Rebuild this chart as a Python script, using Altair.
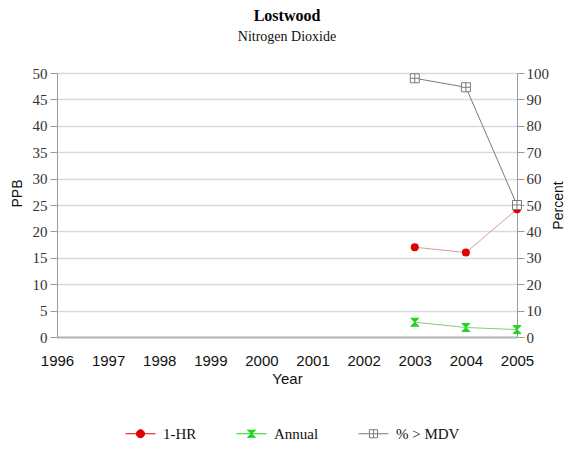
import altair as alt
import pandas as pd

# ---- data ----
years = [2003, 2004, 2005]
hr1 = [17.0, 16.0, 24.2]          # PPB
annual = [2.8, 1.8, 1.4]          # PPB
pct_mdv = [98.0, 94.6, 50.0]      # Percent
year_ticks = list(range(1996, 2006))
ppb_ticks = list(range(0, 51, 5))
pct_ticks = list(range(0, 101, 10))
series = ["1-HR", "Annual", "% > MDV"]

df_ppb = pd.DataFrame({
    "year": years * 2,
    "value": hr1 + annual,
    "series": ["1-HR"] * 3 + ["Annual"] * 3,
})
df_pct = pd.DataFrame({"year": years, "value": pct_mdv, "series": ["% > MDV"] * 3})
df_leg = pd.DataFrame({"series": series})

RED, GREEN, GRAY = "#e00000", "#1fd41f", "#7a7a7a"
LRED, LGREEN = "#d99a9a", "#7fd07f"
SERIF, SANS = "Liberation Serif", "Liberation Sans"

x = alt.X(
    "year:Q",
    scale=alt.Scale(domain=[1996, 2005], nice=False, zero=False),
    axis=alt.Axis(values=year_ticks, format="d", ticks=False, labelPadding=16,
                  labelFlush=False, labelOverlap=False,
                  labelFont=SANS, labelFontSize=15, labelColor="#111",
                  domainColor="#b5b5b5", domainWidth=2, grid=False,
                  title="Year", titleFont=SANS, titleFontSize=15, titleFontWeight="normal",
                  titleColor="#111", titlePadding=3),
)

y_left = alt.Y(
    "value:Q",
    scale=alt.Scale(domain=[0, 50], nice=False),
    axis=alt.Axis(values=ppb_ticks, tickSize=7, tickColor="#9a9a9a", labelPadding=3,
                  labelFont=SERIF, labelFontSize=15, labelColor="#333",
                  domainColor="#9a9a9a", grid=True, gridColor="#d9d9d9", gridWidth=1.5,
                  title="PPB", titleFont=SANS, titleFontSize=14, titleFontWeight="normal",
                  titleColor="#111", titlePadding=8, titleY=120),
)

y_right = alt.Y(
    "value:Q",
    scale=alt.Scale(domain=[0, 100], nice=False),
    axis=alt.Axis(orient="right", values=pct_ticks, tickSize=7, tickColor="#9a9a9a",
                  labelPadding=2, labelFont=SERIF, labelFontSize=15, labelColor="#333",
                  domainColor="#9a9a9a", grid=False,
                  title="Percent", titleFont=SANS, titleFontSize=14, titleFontWeight="normal",
                  titleColor="#111", titleAngle=270, titleBaseline="top", titlePadding=3),
)

left_lines = alt.Chart(df_ppb).mark_line(strokeWidth=1).encode(
    x=x, y=y_left,
    color=alt.Color("series:N", scale=alt.Scale(domain=["1-HR", "Annual"], range=[LRED, LGREEN]),
                    legend=None),
)
hr_pts = alt.Chart(df_ppb).transform_filter(alt.datum.series == "1-HR").mark_point(
    shape="circle", size=64, filled=True, color=RED, opacity=1
).encode(x=x, y=y_left)
ann_pts = alt.Chart(df_ppb).transform_filter(alt.datum.series == "Annual").mark_point(
    shape="M-1,-1H1L-1,1H1Z", size=64, filled=True, color=GREEN, stroke=GREEN,
    strokeWidth=1, opacity=1
).encode(x=x, y=y_left)

leg = alt.Legend(orient="none", legendX=68, legendY=345, direction="horizontal", title=None,
                 symbolSize=900, symbolStrokeWidth=1, labelFont=SERIF, labelFontSize=15,
                 labelColor="#111", labelOffset=7, columnPadding=37, padding=0)
legend_paths = [
    "M-1,0H1M-0.27,0A0.27,0.27 0 1,0 0.27,0A0.27,0.27 0 1,0 -0.27,0Z",
    "M-1,0H1M-0.27,-0.24H0.27L-0.27,0.24H0.27Z",
    "M-1,0H1M-0.27,-0.27H0.27V0.27H-0.27ZM0,-0.27V0.27",
]
legend_layer = alt.Chart(df_leg).mark_point(filled=True, clip=True, opacity=1, strokeWidth=1).encode(
    x=alt.value(-300), y=alt.value(-300),
    fill=alt.Fill("series:N", scale=alt.Scale(domain=series, range=[RED, GREEN, "white"]), legend=leg),
    stroke=alt.Stroke("series:N", scale=alt.Scale(domain=series, range=[RED, GREEN, GRAY]), legend=leg),
    shape=alt.Shape("series:N", scale=alt.Scale(domain=series, range=legend_paths), legend=leg),
)

left = alt.layer(left_lines, hr_pts, ann_pts, legend_layer)

right_line = alt.Chart(df_pct).mark_line(strokeWidth=1, color=GRAY).encode(x=x, y=y_right)
pct_pts = alt.Chart(df_pct).mark_point(
    shape="M-1,-1H1V1H-1ZM0,-1V1M-1,0H1", size=81, filled=False, fill="white",
    stroke=GRAY, strokeWidth=1, opacity=1
).encode(x=x, y=y_right)
right = alt.layer(right_line, pct_pts)

chart = alt.layer(left, right).resolve_scale(y="independent").properties(
    width=460, height=264,
    title=alt.TitleParams(text="Lostwood", subtitle="Nitrogen Dioxide", font=SERIF, fontSize=16,
                          fontWeight="bold", color="#000", subtitleFont=SERIF, subtitleFontSize=14,
                          subtitleColor="#111", subtitlePadding=6, anchor="middle", offset=22),
    autosize=alt.AutoSizeParams(type="none"),
    padding={"left": 49, "top": 65, "right": 49, "bottom": 104},
).configure_view(stroke="#8a8a8a", strokeWidth=1).configure(background="white")

chart.save("out.html", embed_options={"renderer": "svg", "actions": False})
